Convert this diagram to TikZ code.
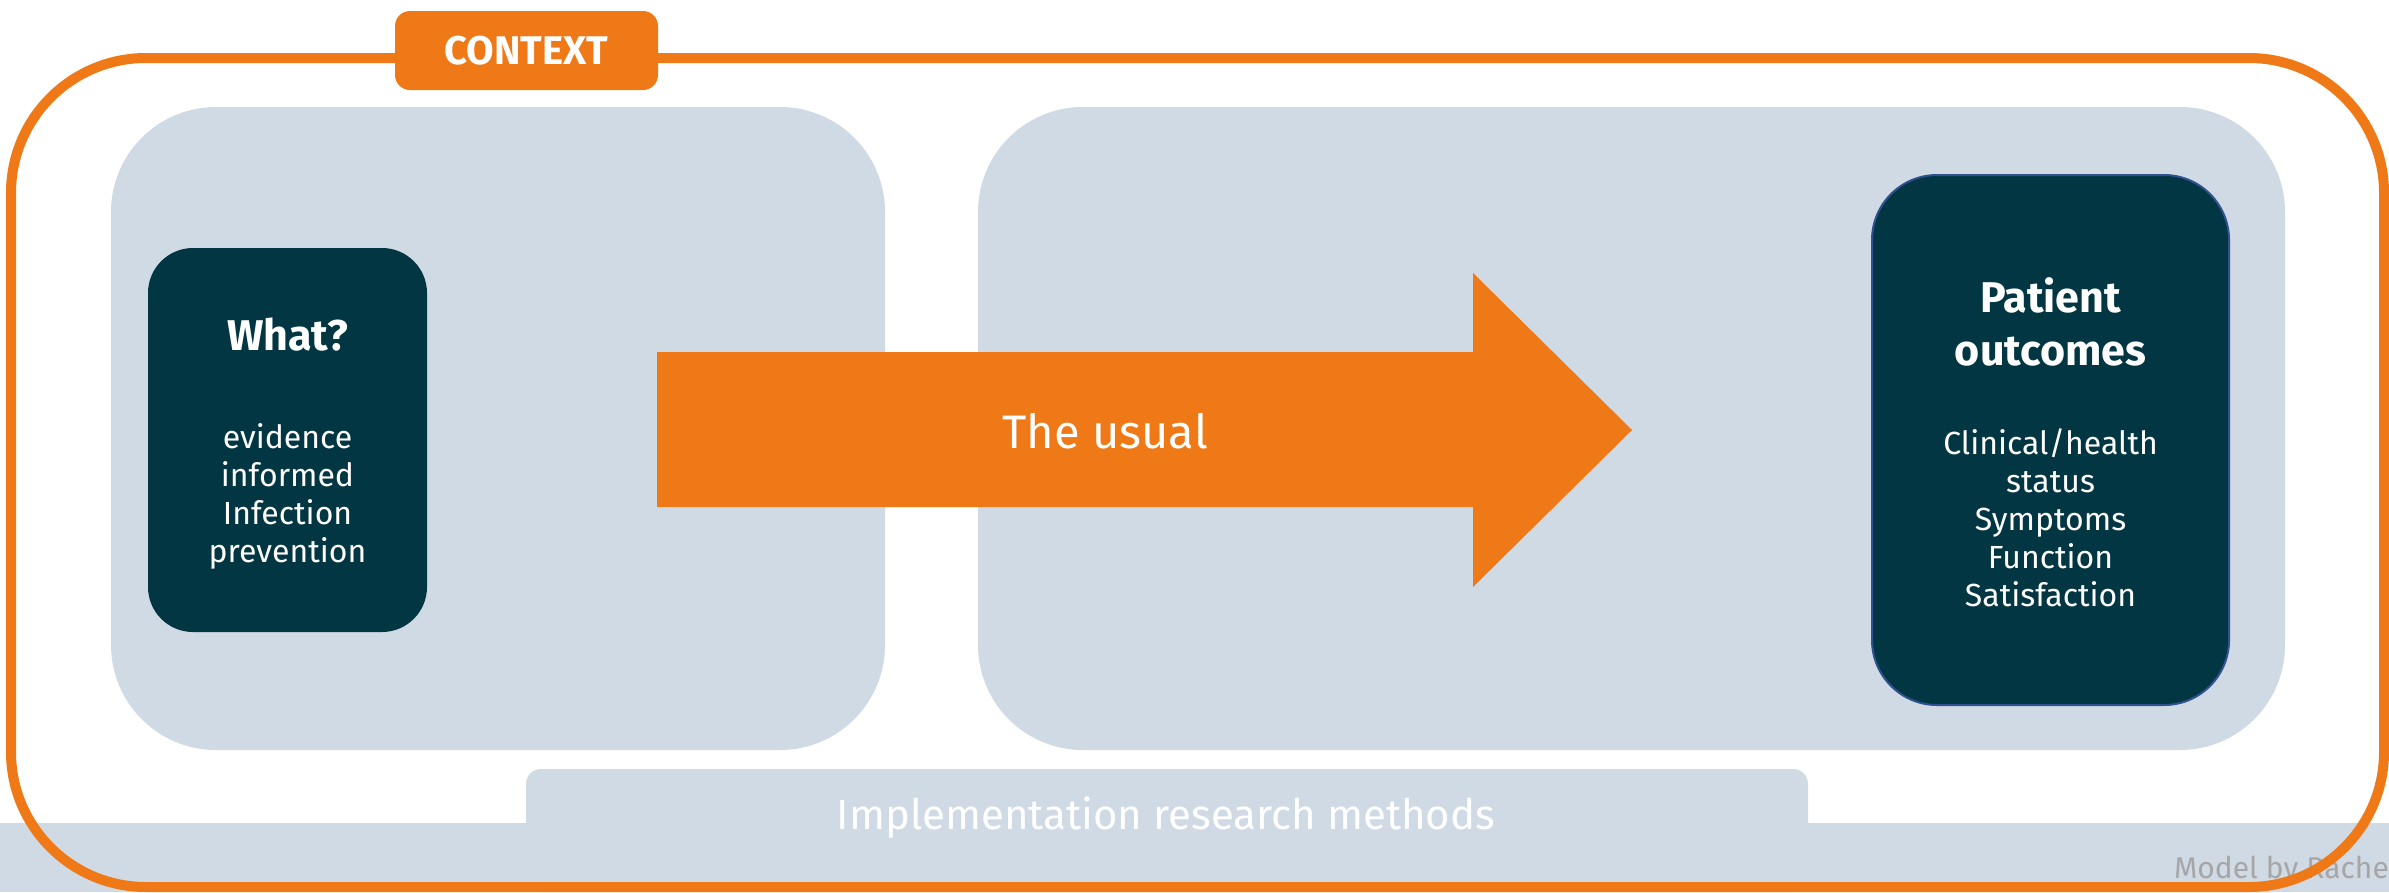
\documentclass[tikz,border=0pt]{standalone}
\usepackage{fontspec}
\setmainfont{Fira Sans}
\usepackage{tikz}
\usetikzlibrary{positioning}
\usepackage{xcolor}

\definecolor{ctxOrange}{RGB}{239,121,22}
\definecolor{panelGray}{RGB}{208,218,229}
\definecolor{boxTeal}{RGB}{2,54,66}
\definecolor{boxEdge}{RGB}{47,82,143}
\definecolor{noteGray}{RGB}{166,166,166}

\tikzset
  {
    myPanel/.style=    {fill=panelGray, rounded corners=105pt},
    myBox/.style=      {fill=boxTeal, rounded corners=45pt},
    myHead/.style=     {text=white, align=center, font=\fontsize{43}{53}\selectfont\bfseries},
    myList/.style=     {text=white, align=center, font=\fontsize{32}{38}\selectfont}
  }

\begin{document}
\begin{tikzpicture}[x=1pt, y=-1pt]

\useasboundingbox (0,0) rectangle (2389,892);

% methods band
\fill[panelGray] (0,823) rectangle (2389,892);
\fill[panelGray, rounded corners=15pt] (526,769) rectangle (1808,892);

\node[text=white, font=\fontsize{42}{50}\selectfont] (methods) at (1166,818) {Implementation research methods};

\node[anchor=base east, inner sep=0, text=noteGray, font=\fontsize{30}{36}\selectfont] (credit) at (2389,878) {Model by Rache};


% panels
\fill[myPanel] (111,107) rectangle (885,750);
\fill[myPanel] (978,107) rectangle (2285,750);


% what box
\node[myBox, minimum width=279, minimum height=384] (what) at (287.5,440) {};

\node[myHead] (whatHead) at (287.5,335) {What?};
\node[myList] (whatList) at (287.5,496) {evidence\\informed\\Infection\\prevention};


% outcome box
\node[myBox, draw=boxEdge, line width=2pt, rounded corners=65pt, minimum width=357, minimum height=530] (outcome) at (2050.5,440) {};

\node[myHead] (outcomeHead) at (2050.5,322) {Patient\\outcomes};
\node[myList] (outcomeList) at (2050.5,518) {Clinical/health\\status\\Symptoms\\Function\\Satisfaction};


% the arrow
\fill[ctxOrange] (657,352)--(1473,352)--(1473,273)--(1632,430)--(1473,587)--(1473,507)--(657,507)--cycle;

\node[text=white, font=\fontsize{47}{58}\selectfont] (usual) at (1105,431) {The usual};


% context frame
\draw[ctxOrange, line width=10pt, rounded corners=135pt] (11,58) rectangle (2384,887);

\node[fill=ctxOrange, rounded corners=15pt, minimum width=263, minimum height=79, text=white, font=\fontsize{40}{46}\selectfont\bfseries] (context) at (526.5,50.5) {CONTEXT};

\end{tikzpicture}
\end{document}
